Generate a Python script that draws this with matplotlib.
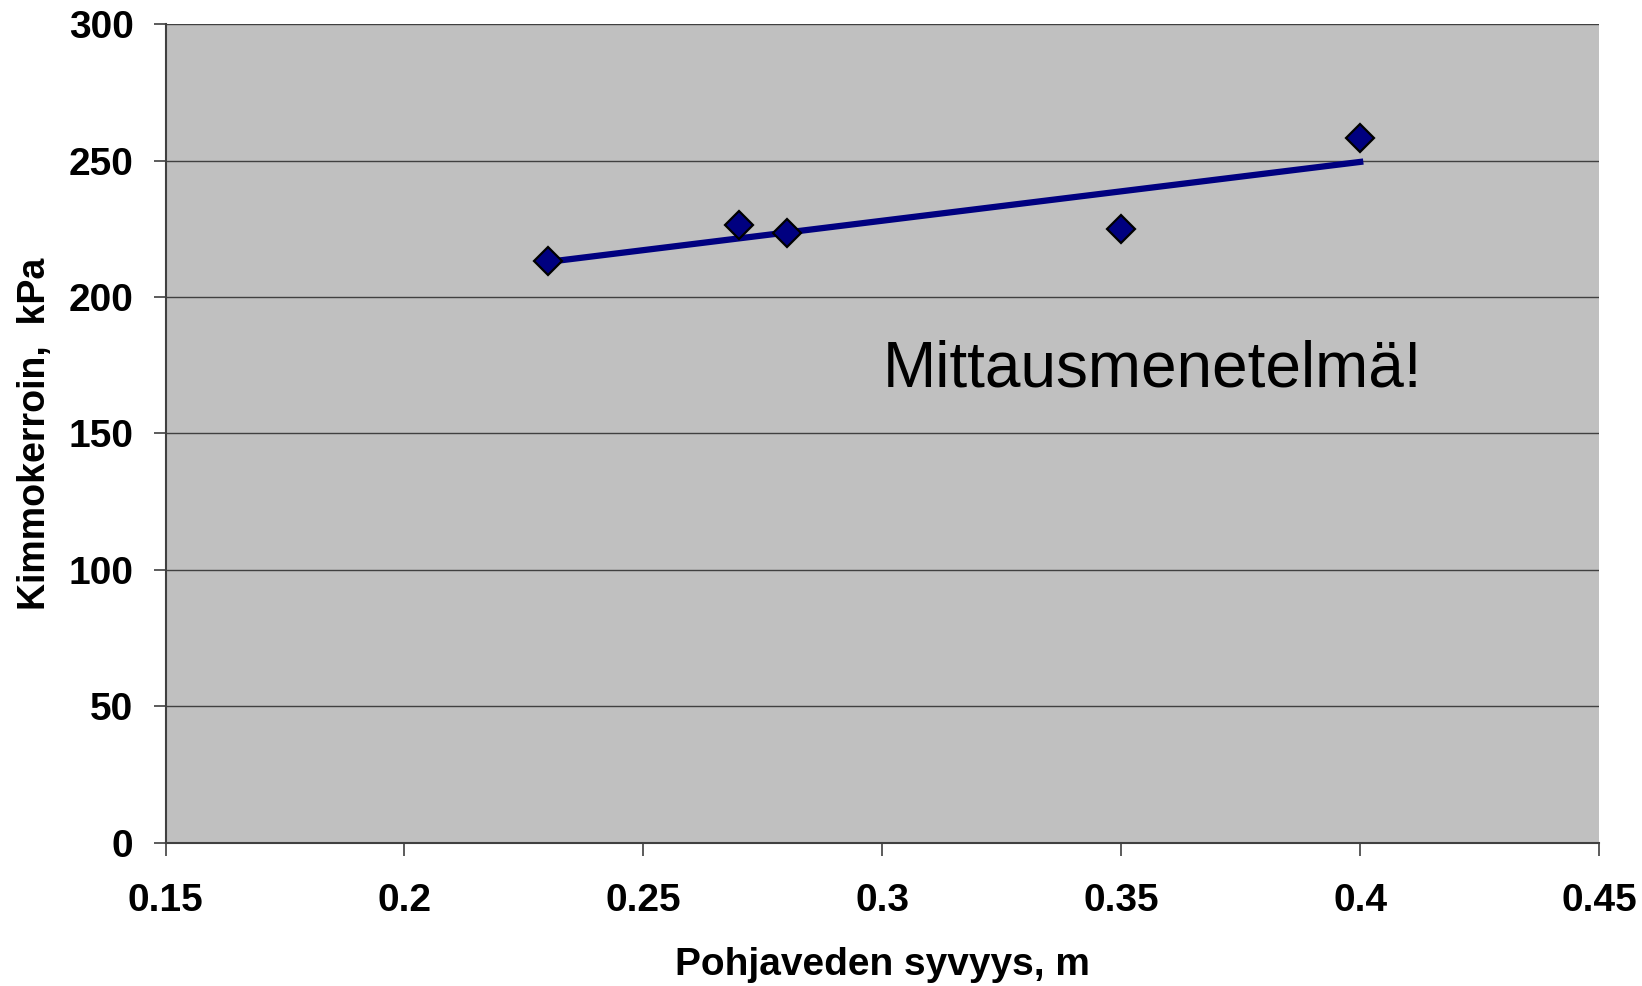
import numpy as np
from matplotlib import pyplot as plt

plt.rcParams['font.family'] = ['Liberation Sans', 'DejaVu Sans']

depth = np.array([0.23, 0.27, 0.28, 0.35, 0.40])
modulus = np.array([213.3, 226.3, 223.6, 224.8, 258.2])
xticks = [0.15, 0.2, 0.25, 0.3, 0.35, 0.4, 0.45]
yticks = [0, 50, 100, 150, 200, 250, 300]

fig = plt.figure(figsize=(16.42, 9.86), dpi=100)
ax = fig.add_axes([0.1008, 0.1451, 0.8731, 0.8305])
ax.set_facecolor('#c0c0c0')

# linear trend line
k, b = np.polyfit(depth, modulus, 1)
xt = np.array([depth.min(), depth.max()])
ax.plot(xt, k * xt + b, color='#000080', lw=4.5, zorder=3)
ax.plot(depth, modulus, 'D', color='#000080', mec='black', mew=1.6,
        markersize=14, zorder=4)

ax.set_xlim(0.15, 0.45)
ax.set_ylim(0, 300)
ax.set_xticks(xticks)
ax.set_xticklabels([str(t) for t in xticks])
ax.set_yticks(yticks)
ax.yaxis.grid(True, color='#404040', lw=1)
ax.set_axisbelow(True)
for s in ['top', 'right']:
    ax.spines[s].set_visible(False)
for s in ['left', 'bottom']:
    ax.spines[s].set_color('#404040')
    ax.spines[s].set_linewidth(1.5)
ax.tick_params(length=9, width=1.2, color='#404040', labelsize=28)
ax.tick_params(axis='x', pad=20)
ax.tick_params(axis='y', pad=14)
for lab in ax.get_xticklabels() + ax.get_yticklabels():
    lab.set_fontweight('bold')

ax.set_xlabel('Pohjaveden syvyys, m', fontsize=28, fontweight='bold', labelpad=20)
ax.set_ylabel('Kimmokerroin,  kPa', fontsize=27, fontweight='bold', labelpad=11)
ax.text(0.3, 173.5, 'Mittausmenetelmä!', fontsize=46, va='center', ha='left')

plt.savefig('out.png')
